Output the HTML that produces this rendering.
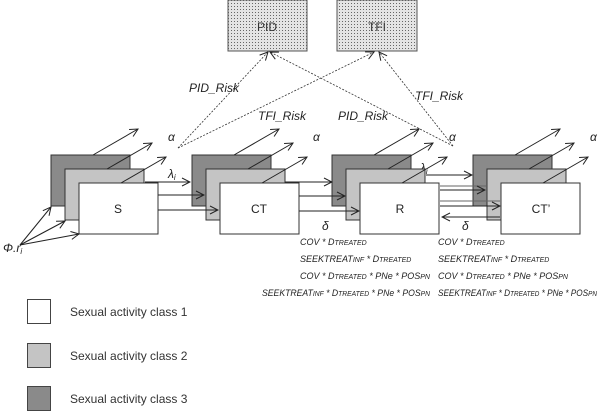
<!DOCTYPE html>
<html><head><meta charset="utf-8"><style>body{margin:0;background:#fff}svg{display:block}text{font-family:"Liberation Sans",sans-serif}</style></head><body>
<svg width="600" height="411" viewBox="0 0 600 411" xmlns="http://www.w3.org/2000/svg">
<defs>
<marker id="a" markerWidth="10" markerHeight="10" refX="9" refY="5" orient="auto" markerUnits="userSpaceOnUse"><path d="M1,1 L9,5 L1,9" fill="none" stroke="#222" stroke-width="1"/></marker>
<pattern id="dots" width="3" height="3" patternUnits="userSpaceOnUse"><rect width="3" height="3" fill="#e4e4e4"/><rect width="1" height="1" fill="#666"/></pattern>
</defs>
<rect x="228" y="0" width="79" height="51" fill="url(#dots)" stroke="#555"/>
<rect x="337" y="0" width="80" height="51" fill="url(#dots)" stroke="#555"/>
<text x="267" y="31" font-size="12" text-anchor="middle" fill="#333">PID</text>
<text x="377" y="31" font-size="12" text-anchor="middle" fill="#333">TFI</text>
<g stroke="#333" stroke-width="0.8" stroke-dasharray="2,1.5" fill="none" marker-end="url(#a)">
<line x1="178" y1="148" x2="268" y2="52"/>
<line x1="178" y1="148" x2="374" y2="52"/>
<line x1="453" y1="146" x2="270" y2="52"/>
<line x1="453" y1="146" x2="379" y2="52"/>
</g>
<g font-size="12" font-style="italic" fill="#222">
<text x="189" y="92">PID_Risk</text>
<text x="258" y="120">TFI_Risk</text>
<text x="338" y="120">PID_Risk</text>
<text x="415" y="100">TFI_Risk</text>
<text x="168" y="141">α</text><text x="313" y="141">α</text><text x="449" y="141">α</text><text x="590" y="141">α</text>
<text x="168" y="178">λ<tspan font-size="8" dy="2">i</tspan></text>
<text x="420" y="172">λ<tspan font-size="8" dy="2">i</tspan></text>
<text x="322" y="230">δ</text><text x="462" y="230">δ</text>
<text x="3" y="252">Φ.r<tspan font-size="8" dy="2">i</tspan></text>
</g>
<g id="grp">
<rect x="51" y="155" width="79" height="51" fill="#8a8a8a" stroke="#333"/>
<line x1="93" y1="155" x2="138" y2="129" stroke="#222" marker-end="url(#a)"/>
<rect x="65" y="169" width="79" height="51" fill="#c4c4c4" stroke="#333"/>
<line x1="107" y1="169" x2="152" y2="143" stroke="#222" marker-end="url(#a)"/>
<rect x="79" y="183" width="79" height="51" fill="#fff" stroke="#333"/>
<line x1="121" y1="183" x2="166" y2="157" stroke="#222" marker-end="url(#a)"/>
</g>
<use href="#grp" x="141"/>
<use href="#grp" x="281"/>
<use href="#grp" x="422"/>
<g stroke="#666" stroke-width="1"><line x1="440" y1="186" x2="486" y2="186"/><line x1="440" y1="201" x2="500" y2="201"/></g>
<g stroke="#222" stroke-width="1" fill="none" marker-end="url(#a)">
<line x1="20" y1="245" x2="51" y2="207"/>
<line x1="20" y1="245" x2="65" y2="221"/>
<line x1="20" y1="245" x2="79" y2="234"/>
<line x1="145" y1="182" x2="190" y2="182"/>
<line x1="158" y1="195" x2="204" y2="195"/>
<line x1="158" y1="210" x2="218" y2="210"/>
<line x1="285" y1="182" x2="332" y2="182"/>
<line x1="299" y1="196" x2="345" y2="196"/>
<line x1="299" y1="211" x2="359" y2="211"/>
<line x1="426" y1="175" x2="472" y2="175"/>
<line x1="440" y1="190" x2="485" y2="190"/>
<line x1="440" y1="206" x2="500" y2="206"/>
<line x1="500" y1="217" x2="442" y2="217"/>
</g>
<g font-size="12" fill="#222" text-anchor="middle">
<text x="118" y="213">S</text><text x="259" y="213">CT</text><text x="400" y="213">R</text><text x="541" y="213">CT’</text>
</g>
<g font-size="9" font-style="italic" fill="#222">
<text x="300" y="245">COV * D<tspan font-size="7">TREATED</tspan></text>
<text x="300" y="262">SEEKTREAT<tspan font-size="7">INF</tspan> * D<tspan font-size="7">TREATED</tspan></text>
<text x="300" y="279" textLength="130" lengthAdjust="spacingAndGlyphs">COV * D<tspan font-size="7">TREATED</tspan> * PNe * POS<tspan font-size="7">PN</tspan></text>
<text x="262" y="296" textLength="168" lengthAdjust="spacingAndGlyphs">SEEKTREAT<tspan font-size="7">INF</tspan> * D<tspan font-size="7">TREATED</tspan> * PNe * POS<tspan font-size="7">PN</tspan></text>
<text x="438" y="245">COV * D<tspan font-size="7">TREATED</tspan></text>
<text x="438" y="262">SEEKTREAT<tspan font-size="7">INF</tspan> * D<tspan font-size="7">TREATED</tspan></text>
<text x="438" y="279" textLength="130" lengthAdjust="spacingAndGlyphs">COV * D<tspan font-size="7">TREATED</tspan> * PNe * POS<tspan font-size="7">PN</tspan></text>
<text x="438" y="296" textLength="159" lengthAdjust="spacingAndGlyphs">SEEKTREAT<tspan font-size="7">INF</tspan> * D<tspan font-size="7">TREATED</tspan> * PNe * POS<tspan font-size="7">PN</tspan></text>
</g>
<rect x="27.5" y="299.5" width="23" height="24" fill="#fff" stroke="#444"/>
<rect x="27.5" y="343.5" width="23" height="24" fill="#c4c4c4" stroke="#444"/>
<rect x="27.5" y="386.5" width="23" height="24" fill="#8a8a8a" stroke="#444"/>
<g font-size="12" fill="#333">
<text x="70" y="316">Sexual activity class 1</text>
<text x="70" y="360">Sexual activity class 2</text>
<text x="70" y="403">Sexual activity class 3</text>
</g>
</svg>
</body></html>
